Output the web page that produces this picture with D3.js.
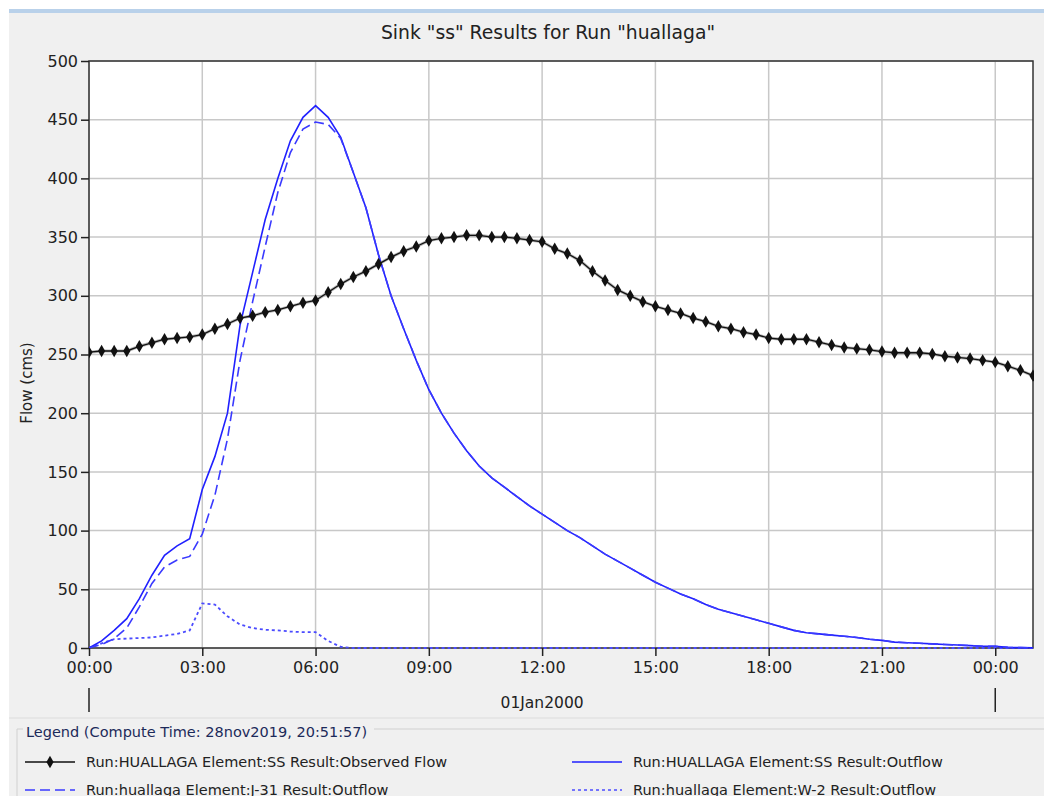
<!DOCTYPE html>
<html><head><meta charset="utf-8">
<script src="https://cdn.jsdelivr.net/npm/d3@7"></script>
<style>
body{margin:0;background:#fff;}
svg text{font-family:"DejaVu Sans",Verdana,sans-serif;fill:#222;}
</style></head>
<body>
<svg id="c" width="1044" height="796"></svg>
<script>
// ---- data ----
const title = 'Sink "ss" Results for Run "huallaga"';
const yLabel = "Flow (cms)";
const dateLabel = "01Jan2000";
const legendTitle = "Legend (Compute Time: 28nov2019, 20:51:57)";
const seriesNames = [
  "Run:HUALLAGA Element:SS Result:Observed Flow",
  "Run:HUALLAGA Element:SS Result:Outflow",
  "Run:huallaga Element:J-31 Result:Outflow",
  "Run:huallaga Element:W-2 Result:Outflow"
];
const xTickHours = [0,3,6,9,12,15,18,21,24];
const xTickLabels = ["00:00","03:00","06:00","09:00","12:00","15:00","18:00","21:00","00:00"];
const yTicks = [0,50,100,150,200,250,300,350,400,450,500];
// hours, 20-minute steps (0 .. 25 h)
const stepHours = 1/3;
const observed = [252,253,253,253,257,260,263,264,265,267,272,276,281,283,286,288,291,294,296,303,
  310,316,321,327,333,338,342,347,349,350,351.5,351.5,350,350,349,347.5,346,340,336,330,
  321,313,305,300,295,291,288,285,281,278,274,272,269,267,264,263,263,263,260.5,258,
  256,255,254,252.5,251.5,251.5,251.5,250.5,248.5,247.5,246.5,245,243.5,240,236.5,232];
const ssOutflow = [0,6,15,25,42,62,79,87,93,135,163,200,275,320,365,400,432,452,462,452,
  435,405,375,335,300,272,245,220,200,183,168,155,145,137,129,121,114,107,100,94,
  87,80,74,68,62,56,51,46,42,37,33,30,27,24,21,18,15,13,12,11,
  10,9,7.5,6.5,5,4.5,4,3.5,3,2.5,2,1.5,1.5,0.5,0.3,0.2];
const j31Outflow = [0,3,8,17,35,55,69,75,78,97,130,178,245,295,342,388,422,442,448,446,
  434,405,375,335,300,272,245,220,200,183,168,155,145,137,129,121,114,107,100,94,
  87,80,74,68,62,56,51,46,42,37,33,30,27,24,21,18,15,13,12,11,
  10,9,7.5,6.5,5,4.5,4,3.5,3,2.5,2,1.5,1.5,0.5,0.3,0.2];
const w2Outflow = [0,4,7.5,8,8.5,9,10.5,12,15,38,37,27,20,17,15.5,15,14,13.5,13.5,6,
  1,0,0,0,0,0,0,0,0,0,0,0,0,0,0,0,0,0,0,0,
  0,0,0,0,0,0,0,0,0,0,0,0,0,0,0,0,0,0,0,0,
  0,0,0,0,0,0,0,0,0,0,0,0,0,0,0,0];

// ---- layout ----
const svg = d3.select("#c");
const L=89, R=1033, T=61, B=648;
svg.append("rect").attr("x",9).attr("y",9).attr("width",1035).attr("height",787).attr("fill","#f0f0f0");
svg.append("rect").attr("x",9).attr("y",9).attr("width",1035).attr("height",4).attr("fill","#b9d1ea");

const x = d3.scaleLinear().domain([0,25]).range([L,R]);
const y = d3.scaleLinear().domain([0,500]).range([B,T]);

svg.append("rect").attr("x",L).attr("y",T).attr("width",R-L).attr("height",B-T).attr("fill","#fff");

// grid
const g = svg.append("g");
g.selectAll(".gx").data(xTickHours).join("line")
  .attr("x1",d=>x(d)).attr("x2",d=>x(d)).attr("y1",T).attr("y2",B)
  .attr("stroke","#c8c8c8").attr("stroke-width",1.5);
g.selectAll(".gy").data(yTicks).join("line")
  .attr("x1",L).attr("x2",R).attr("y1",d=>y(d)).attr("y2",d=>y(d))
  .attr("stroke","#c8c8c8").attr("stroke-width",1.5);

// frame (drawn under the series, as in the original)
svg.append("rect").attr("x",L).attr("y",T).attr("width",R-L).attr("height",B-T)
  .attr("fill","none").attr("stroke","#333").attr("stroke-width",1.5);

const tOf = i => i*stepHours;
const line = d3.line().x((d,i)=>x(tOf(i))).y(d=>y(d));

svg.append("clipPath").attr("id","pc").append("rect")
  .attr("x",L).attr("y",T-2).attr("width",R-L+1).attr("height",B-T+3);
const plot = svg.append("g").attr("clip-path","url(#pc)");

plot.append("path").datum(w2Outflow).attr("d",line).attr("fill","none")
  .attr("stroke","#4b4bff").attr("stroke-width",1.8).attr("stroke-dasharray","3,3");
plot.append("path").datum(ssOutflow).attr("d",line).attr("fill","none")
  .attr("stroke","#2020ff").attr("stroke-width",1.6);
plot.append("path").datum(j31Outflow).attr("d",line).attr("fill","none")
  .attr("stroke","#3a3aff").attr("stroke-width",1.6).attr("stroke-dasharray","10,5");
plot.append("path").datum(observed).attr("d",line).attr("fill","none")
  .attr("stroke","#888").attr("stroke-width",3).attr("stroke-opacity",0.6);
plot.append("path").datum(observed).attr("d",line).attr("fill","none")
  .attr("stroke","#111").attr("stroke-width",1.3);
const diamond = d3.symbol().type(d3.symbolDiamond).size(45);
plot.selectAll(".obs").data(observed).join("path")
  .attr("transform",(d,i)=>`translate(${x(tOf(i))},${y(d)})`)
  .attr("d",diamond).attr("fill","#111");

// y axis
const yAxis = d3.axisLeft(y).tickValues(yTicks).tickSize(8).tickPadding(3);
const ya = svg.append("g").attr("transform",`translate(${L},0)`).call(yAxis);
ya.select(".domain").remove();
ya.selectAll("line").attr("stroke","#222").attr("stroke-width",1.5);
ya.selectAll("text").attr("font-size",16).attr("fill","#222").attr("font-family","DejaVu Sans, Verdana, sans-serif");

// x axis
const xAxis = d3.axisBottom(x).tickValues(xTickHours).tickFormat((d,i)=>xTickLabels[i]).tickSize(8).tickPadding(6);
const xa = svg.append("g").attr("transform",`translate(0,${B})`).call(xAxis);
xa.select(".domain").remove();
xa.selectAll("line").attr("stroke","#222").attr("stroke-width",1.5);
xa.selectAll("text").attr("font-size",16).attr("fill","#222").attr("font-family","DejaVu Sans, Verdana, sans-serif");

// day markers
[0,24].forEach(h=>{
  svg.append("line").attr("x1",x(h)).attr("x2",x(h)).attr("y1",688).attr("y2",712)
    .attr("stroke","#222").attr("stroke-width",1.5);
});
svg.append("text").attr("x",x(12)).attr("y",708).attr("text-anchor","middle")
  .attr("font-size",15.5).text(dateLabel);

// title
svg.append("text").attr("x",548).attr("y",39).attr("text-anchor","middle")
  .attr("font-size",18.8).text(title);

// y label
svg.append("text").attr("transform","translate(32,383) rotate(-90)").attr("text-anchor","middle")
  .attr("font-size",15).text(yLabel);

// legend
svg.append("line").attr("x1",9).attr("x2",1044).attr("y1",718).attr("y2",718).attr("stroke","#dcdcdc");
svg.append("path").attr("d","M17,796 V729 H23 M374,729 H1044").attr("fill","none").attr("stroke","#d0d0d0");
svg.append("text").attr("x",26).attr("y",737).attr("font-size",14.5)
  .style("fill","#1c2a5a").text(legendTitle);

const legPos = [[25,762],[572,762],[25,790],[572,790]];
const legStyles = [
  {c:"#111",dash:null},
  {c:"#2020ff",dash:null},
  {c:"#3a3aff",dash:"10,5"},
  {c:"#4b4bff",dash:"3,3"}
];
seriesNames.forEach((n,i)=>{
  const [lx,ly] = legPos[i];
  svg.append("line").attr("x1",lx).attr("x2",lx+50).attr("y1",ly).attr("y2",ly)
    .attr("stroke",legStyles[i].c).attr("stroke-width",1.6)
    .attr("stroke-dasharray",legStyles[i].dash);
  if(i===0) svg.append("path").attr("transform",`translate(${lx+25},${ly})`).attr("d",diamond).attr("fill","#111");
  svg.append("text").attr("x",lx+61).attr("y",ly+5).attr("font-size",14.5).text(n);
});
</script>
</body></html>
